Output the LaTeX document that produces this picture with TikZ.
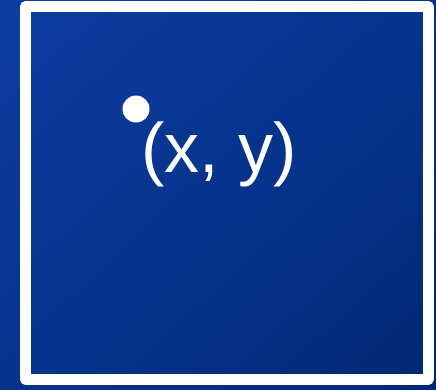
\documentclass[tikz,border=0pt]{standalone}
\usepackage{fontspec}
\setmainfont{Liberation Sans}
\usetikzlibrary{shadings}

\begin{document}
\begin{tikzpicture}[x=1pt,y=-1pt,line cap=round,line join=round]
  \definecolor{bluelight}{RGB}{12,62,162}
  \definecolor{bluemid}{RGB}{6,52,142}
  \definecolor{bluedark}{RGB}{0,40,115}
  \definecolor{framewhite}{RGB}{255,255,255}

  % background
  \useasboundingbox (0,0) rectangle (436,389);
  \shade[upper left=bluelight,upper right=bluemid,lower left=bluemid,lower right=bluedark]
    (0,0) rectangle (436,389);

  % white frame
  \draw[framewhite,line width=11pt] (25.5,6.5) rectangle (428,379.5);

  % point and its label
  \fill[white] (136,109) circle (13.5);
  \node[anchor=base west,inner sep=0pt,text=white,font=\fontsize{70}{84}\selectfont]
    (pointlabel) at (141,172) {(x, y)};
\end{tikzpicture}
\end{document}
